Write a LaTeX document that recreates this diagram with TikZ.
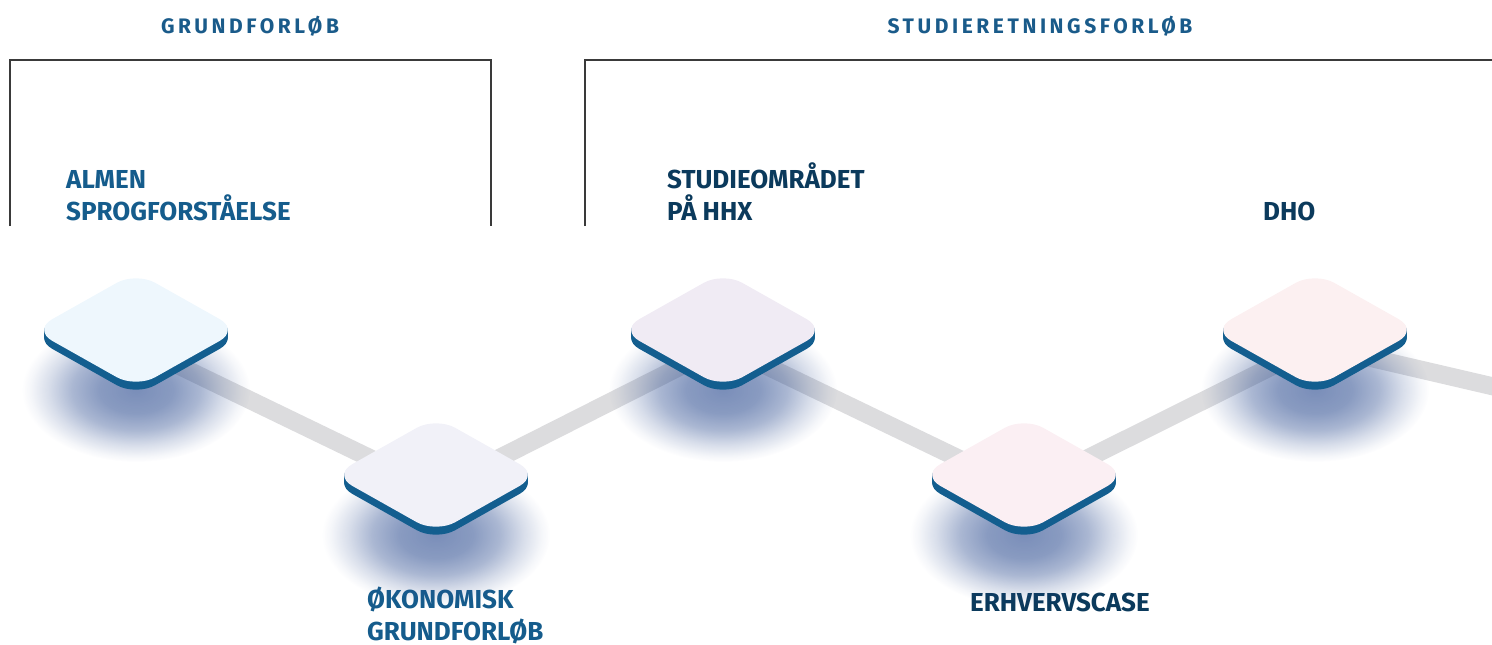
\documentclass[tikz,border=0pt]{standalone}
\usepackage{fontspec}
\setmainfont{Fira Sans}
\newfontfamily\labfont{Fira Sans}
\newfontfamily\hdrfont{Fira Sans}[LetterSpace=17]
\usetikzlibrary{fadings}
\definecolor{hdrblue}{HTML}{1A5B8A}
\definecolor{labblue}{HTML}{155C8C}
\definecolor{labnavy}{HTML}{0B3A5C}
\definecolor{rimblue}{HTML}{135E8F}
\definecolor{linegray}{HTML}{DCDCDE}
\definecolor{glowblue}{HTML}{2C4C90}
\definecolor{boxline}{HTML}{3A3A3A}
\definecolor{fillA}{HTML}{EEF7FD}
\definecolor{fillB}{HTML}{F1F1F8}
\definecolor{fillC}{HTML}{F0EBF4}
\definecolor{fillD}{HTML}{FBEFF3}
\definecolor{fillE}{HTML}{FCF0F1}
\pgfdeclareradialshading{glowshade}{\pgfpointorigin}{%
  color(0bp)=(white!63!black); color(8bp)=(white!56!black); color(14bp)=(white!40!black);
  color(19bp)=(white!19!black); color(23bp)=(white!5!black); color(25bp)=(black); color(50bp)=(black)}
\pgfdeclarefading{glowfade}{\pgfuseshading{glowshade}}
\tikzset{
  hdr/.style={font=\hdrfont\bfseries\fontsize{21}{25}\selectfont, text=hdrblue, inner sep=0pt, anchor=base},
  lab/.style={font=\labfont\bfseries\fontsize{26}{32}\selectfont, align=left, inner sep=0pt, anchor=base west},
  connector/.style={linegray, line width=18pt, line join=round},
  frame/.style={boxline, line width=1.3pt},
}
\newcommand\tilepath[1]{[rounded corners=22pt] (51.5,{-29+#1}) -- (103,{#1}) -- (0,{58+#1}) -- (-103,{#1}) -- (0,{-58+#1}) -- cycle}
\newcommand\drawtile[3]{%
  \begin{scope}[shift={(#1,#2)}]
    \fill[glowblue, path fading=glowfade] (0,60) ellipse (114 and 72);
    \foreach \o in {1,...,8}{\fill[rimblue] \tilepath{\o};}
    \fill[#3] \tilepath{0};
  \end{scope}}
\begin{document}
\begin{tikzpicture}[x=1pt,y=-1pt]
\useasboundingbox (0,0) rectangle (1492,645);
\clip (0,0) rectangle (1492,645);
% frames
\draw[frame] (10,226) -- (10,60) -- (491,60) -- (491,226);
\draw[frame] (585,226) -- (585,60) -- (1500,60);
% headers
\node[hdr] (h1) at (250,33) {GRUNDFORLØB};
\node[hdr] (h2) at (1040,33) {STUDIERETNINGSFORLØB};
% labels
\node[lab, text=labblue] (l1) at (66,220) {ALMEN\\SPROGFORSTÅELSE};
\node[lab, text=labnavy] (l2) at (667,220) {STUDIEOMRÅDET\\PÅ HHX};
\node[lab, text=labnavy] (l3) at (1263,220) {DHO};
\node[lab, text=labblue] (l4) at (367,640) {ØKONOMISK\\GRUNDFORLØB};
\node[lab, text=labnavy] (l5) at (970,611) {ERHVERVSCASE};
% connectors
\coordinate (c1) at (136,345);
\coordinate (c2) at (436,490);
\coordinate (c3) at (723,345);
\coordinate (c4) at (1024,490);
\coordinate (c5) at (1315,345);
\coordinate (cend) at (1530,395);
\draw[connector] (c1) -- (c2) -- (c3) -- (c4) -- (c5) -- (cend);
% tiles
\drawtile{136}{330}{fillA}
\drawtile{436}{475}{fillB}
\drawtile{723}{330}{fillC}
\drawtile{1024}{475}{fillD}
\drawtile{1315}{330}{fillE}
\end{tikzpicture}
\end{document}
